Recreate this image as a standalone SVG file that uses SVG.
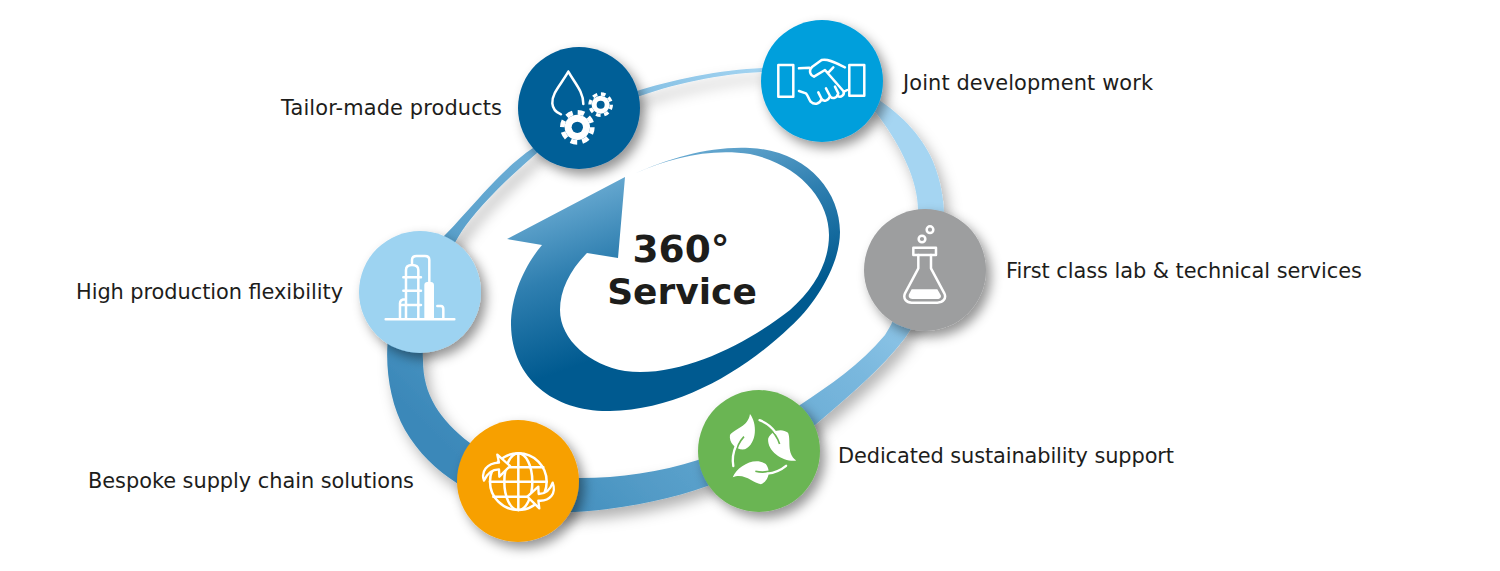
<svg xmlns="http://www.w3.org/2000/svg" width="1500" height="571" viewBox="0 0 1500 571">
<style>
.lbl{font-family:"DejaVu Sans",Verdana,sans-serif;font-size:20.9px;fill:#1d1d1b}
.big{font-family:"DejaVu Sans","Liberation Sans",sans-serif;font-weight:700;font-size:36px;fill:#1d1d1b;text-anchor:middle}
.ic{fill:none;stroke:#fff;stroke-width:7.5;stroke-linecap:round;stroke-linejoin:round}
.sf{fill:#fff}
</style>
<defs>
<linearGradient id="ringG" gradientUnits="userSpaceOnUse" x1="800" y1="100" x2="450" y2="450">
<stop offset="0" stop-color="#a5d5f2"/><stop offset=".3" stop-color="#7ab8de"/><stop offset=".8" stop-color="#5099c5"/><stop offset="1" stop-color="#3b88b9"/>
</linearGradient>
<linearGradient id="arrowG" gradientUnits="userSpaceOnUse" x1="590" y1="170" x2="650" y2="340">
<stop offset="0" stop-color="#72b1d7"/><stop offset=".5" stop-color="#2f7fb0"/><stop offset="1" stop-color="#005a90"/>
</linearGradient>
<filter id="sh" x="-30%" y="-30%" width="170%" height="170%">
<feDropShadow dx="5" dy="6" stdDeviation="6" flood-color="#000" flood-opacity=".42"/>
</filter>
<filter id="shR" x="-10%" y="-10%" width="125%" height="125%">
<feDropShadow dx="5" dy="8" stdDeviation="7" flood-color="#000" flood-opacity=".3"/>
</filter>
<g id="leaf">
<path class="sf" d="M930,102C952,130 952,190 915,208C890,212 866,190 870,165C885,145 925,140 930,102Z"/>
<path d="M912,170C898,185 890,200 886,225" fill="none" stroke="#6bb553" stroke-width="5"/>
<path d="M880,258C876,235 880,215 888,197" fill="none" stroke="#fff" stroke-width="7" stroke-linecap="round"/>
</g>
</defs>

<g id="connectors">
<path id="ring" filter="url(#shR)" fill="url(#ringG)" fill-rule="evenodd" d="M640,90C680,78 730,68 770,68C840,68 905,105 930,155C952,200 952,270 905,338C880,370 850,395 815,425C770,465 690,505 575,512C510,515 440,490 405,430C385,395 382,340 395,310C410,275 425,255 445,235C470,210 500,170 533,148C565,125 610,100 640,90ZM640,96C680,82 730,72 770,72C825,72 865,95 880,118C900,145 918,180 918,210C920,270 895,320 885,335C860,365 830,385 800,405C760,435 720,450 698,460C660,472 620,478 580,478C530,478 495,465 470,443C440,420 423,395 423,360C420,320 445,250 470,220C490,195 515,172 537,153C570,125 610,105 640,96Z"/>
</g>

<g id="center-arrow">
<path fill="url(#arrowG)" d="M625,177L618,258L587,253C570,270 560,290 560,310C560,340 590,365 625,371C680,378 745,345 790,310C815,288 829,262 829,235C829,200 800,165 750,154C710,148 670,158 636,173C670,158 710,146 750,148C805,150 840,190 840,232C840,265 815,305 790,327C745,370 680,410 610,411C555,412 512,380 511,325C511,295 525,265 542,245L507,239Z"/>
<text class="big" style="font-size:37.5px" x="681" y="262">360°</text>
<text class="big" x="682" y="304">Service</text>
</g>

<g id="node-products">
<circle cx="579" cy="108" r="61" fill="#005e97" filter="url(#sh)"/>
<g transform="translate(500 30) scale(.3333)">
<path class="ic" d="M205,125C182,165 155,190 157,220C158,235 168,247 183,253M205,125C225,160 250,185 250,222"/>
<circle cx="232" cy="292" r="38" class="sf"/>
<circle cx="232" cy="292" r="45" fill="none" stroke="#fff" stroke-width="14" stroke-dasharray="20 15.3"/>
<circle cx="232" cy="292" r="17" fill="#005e97"/>
<circle cx="302" cy="224" r="27" class="sf"/>
<circle cx="302" cy="224" r="32" fill="none" stroke="#fff" stroke-width="10" stroke-dasharray="14 11.1"/>
<circle cx="302" cy="224" r="12" fill="#005e97"/>
</g>
<text class="lbl" x="281" y="115" textLength="221">Tailor-made products</text>
</g>

<g id="node-joint">
<circle cx="822" cy="81" r="61" fill="#059fdc" filter="url(#sh)"/>
<g transform="translate(500 30) scale(.3333)" class="ic">
<rect x="835" y="105" width="45" height="95"/>
<rect x="1048" y="105" width="45" height="92"/>
<path d="M897,115L928,113M1035,112C1010,100 985,85 965,90L937,110C925,122 930,135 942,140L975,120L1030,183C1036,195 1022,205 1012,197M1005,170L1015,190C1010,207 995,207 990,198L978,175M990,198C985,215 970,215 965,207L955,187M965,207C958,224 942,225 932,215C925,205 925,198 918,190L897,183M1032,185L1042,180M985,128L1000,112"/>
</g>
<text class="lbl" x="903" y="90" textLength="250">Joint development work</text>
</g>

<g id="node-lab">
<circle cx="925" cy="270" r="61" fill="#9d9e9f" filter="url(#sh)"/>
<g transform="translate(850 200) scale(.3333)">
<g class="ic">
<rect x="190" y="143" width="68" height="22"/>
<path d="M205,165L205,205L165,280C158,297 170,308 185,308L262,308C280,308 290,295 283,280L243,205L243,165"/>
<circle cx="216" cy="117" r="10"/>
<circle cx="240" cy="89" r="10"/>
</g>
<path class="sf" d="M185,268L262,268L272,285C275,292 270,297 262,297L187,297C178,297 174,290 177,283Z"/>
</g>
<text class="lbl" x="1006" y="278" textLength="356">First class lab &amp; technical services</text>
</g>

<g id="node-sustain">
<circle cx="759" cy="451" r="61" fill="#6bb553" filter="url(#sh)"/>
<g transform="translate(440 380) scale(.3333)">
<use href="#leaf"/>
<use href="#leaf" transform="rotate(120 959 212)"/>
<use href="#leaf" transform="rotate(240 959 212)"/>
</g>
<text class="lbl" x="838" y="463" textLength="336">Dedicated sustainability support</text>
</g>

<g id="node-supply">
<circle cx="518" cy="481" r="61" fill="#f7a000" filter="url(#sh)"/>
<g transform="translate(440 380) scale(.3333)">
<g class="ic">
<circle cx="235" cy="305" r="85"/>
<ellipse cx="235" cy="305" rx="42" ry="85"/>
<path d="M235,220V390M160,262H310M150,305H320M160,350H310"/>
</g>
<path d="M132,302C122,275 140,250 177,248L172,224L210,258L178,290L177,268C160,268 142,278 132,302Z" fill="#f7a000" stroke="#fff" stroke-width="7" stroke-linejoin="round"/>
<path d="M338,308C350,340 330,365 295,362L298,385L262,350L295,320L296,342C315,342 330,332 338,308Z" fill="#f7a000" stroke="#fff" stroke-width="7" stroke-linejoin="round"/>
</g>
<text class="lbl" x="88" y="488" textLength="326">Bespoke supply chain solutions</text>
</g>

<g id="node-flex">
<circle cx="420" cy="292" r="61" fill="#9dd3f1" filter="url(#sh)"/>
<g transform="translate(340 220) scale(.3333)">
<path class="ic" d="M137,298H343M198,298V150Q198,135 216,135Q235,135 235,150V298M190,172H243M190,212H243M180,255H243M216,135V120Q216,108 230,108H255Q268,108 268,120V185M180,298V250Q180,238 197,238M292,258H303Q310,258 310,268V298"/>
<path class="sf" d="M253,298V195Q253,185 267,185Q282,185 282,195V298Z"/>
</g>
<text class="lbl" x="76" y="299" textLength="267">High production flexibility</text>
</g>
</svg>
